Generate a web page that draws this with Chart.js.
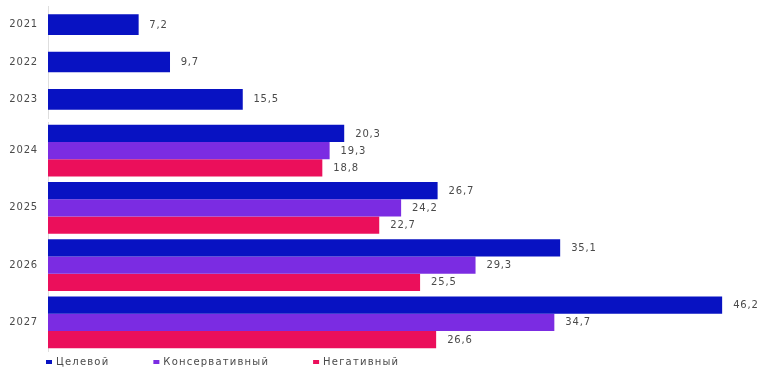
<!DOCTYPE html>
<html>
<head>
<meta charset="utf-8">
<script src="https://cdn.jsdelivr.net/npm/chart.js@4.4.1/dist/chart.umd.min.js"></script>
<style>
	html, body { margin: 0; padding: 0; background: #fff; }
	.wrap { width: 772px; position: relative; }
	#wrap-fact { height: 124px; }
	#wrap-forecast { height: 260px; margin-top: -8px; }
</style>
</head>
<body>
<div class="wrap" id="wrap-fact"><canvas id="chart-fact"></canvas></div>
<div class="wrap" id="wrap-forecast"><canvas id="chart-forecast"></canvas></div>
<script>
const YEARS_FACT = ["2021", "2022", "2023"];
const YEARS_FORECAST = ["2024", "2025", "2026", "2027"];
const FACT = [7.2, 9.7, 15.5];
const TARGET = [20.3, 26.7, 35.1, 46.2];
const CONSERVATIVE = [19.3, 24.2, 29.3, 34.7];
const NEGATIVE = [18.8, 22.7, 25.5, 26.6];
const SERIES_NAMES = ["Целевой", "Консервативный", "Негативный"];

const COLORS = {
	blue: "#0812c2",
	purple: "#7b2ce2",
	red: "#eb0f5b",
	text: "#4a4a4a",
	axis: "#dedede",
};
const FONT = "'DejaVu Sans', sans-serif";

// a bit of tracking so the text is as wide as in the original layout
const letterSpacing = {
	id: "letterSpacing",
	beforeDraw(chart) { chart.ctx.letterSpacing = "0.8px"; },
	afterDraw(chart) { chart.ctx.letterSpacing = "0px"; },
};

// value labels to the right of each bar, with a decimal comma
const valueLabels = {
	id: "valueLabels",
	afterDatasetsDraw(chart) {
		const { ctx } = chart;
		ctx.save();
		ctx.font = "10px " + FONT;
		ctx.fillStyle = COLORS.text;
		ctx.textAlign = "left";
		ctx.textBaseline = "middle";
		chart.data.datasets.forEach((ds, i) => {
			chart.getDatasetMeta(i).data.forEach((bar, j) => {
				ctx.fillText(ds.data[j].toFixed(1).replace(".", ","), bar.x + 11, bar.y + 0.5);
			});
		});
		ctx.restore();
	},
};

// legend under the plot
const bottomLegend = {
	id: "bottomLegend",
	afterDraw(chart) {
		const { ctx, chartArea } = chart;
		let x = chartArea.left - 2;
		const y = chart.height - 14;
		ctx.save();
		ctx.letterSpacing = "1.2px";
		ctx.font = "10px " + FONT;
		ctx.textAlign = "left";
		ctx.textBaseline = "middle";
		chart.data.datasets.forEach((ds) => {
			ctx.fillStyle = ds.backgroundColor;
			ctx.fillRect(x, y - 2, 6, 4);
			ctx.fillStyle = COLORS.text;
			ctx.fillText(ds.label, x + 10, y);
			x += 10 + ctx.measureText(ds.label).width + 44;
		});
		ctx.restore();
	},
};

const barOptions = (xMax, padding) => ({
	indexAxis: "y",
	responsive: true,
	maintainAspectRatio: false,
	animation: false,
	borderWidth: 0,
	layout: { padding },
	plugins: {
		legend: { display: false },
		tooltip: { enabled: false },
	},
	scales: {
		x: { type: "linear", min: 0, max: xMax, display: false },
		y: {
			type: "category",
			// invisible tick marks keep the labels off the axis line
			grid: { display: true, drawOnChartArea: false, drawTicks: true, tickLength: 10, color: "transparent" },
			border: { display: true, color: COLORS.axis, width: 1 },
			ticks: { padding: 0, color: COLORS.text, font: { family: FONT, size: 10 } },
			afterFit: (scale) => { scale.width = 42; },
		},
	},
});

// 2021-2023: actual values (the source draws them on their own scale)
new Chart(document.getElementById("chart-fact"), {
	type: "bar",
	data: {
		labels: YEARS_FACT,
		datasets: [
			{ label: SERIES_NAMES[0], data: FACT, backgroundColor: COLORS.blue, barThickness: 20 },
		],
	},
	plugins: [letterSpacing, valueLabels],
	options: barOptions(57, { left: 6, right: 9, top: 4, bottom: 0 }),
});

// 2024-2027: three scenarios
const forecastOptions = barOptions(49, { left: 6, right: 9, top: 0, bottom: 25 });
forecastOptions.categoryPercentage = 0.9;
forecastOptions.barPercentage = 1;

new Chart(document.getElementById("chart-forecast"), {
	type: "bar",
	data: {
		labels: YEARS_FORECAST,
		datasets: [
			{ label: SERIES_NAMES[0], data: TARGET, backgroundColor: COLORS.blue },
			{ label: SERIES_NAMES[1], data: CONSERVATIVE, backgroundColor: COLORS.purple },
			{ label: SERIES_NAMES[2], data: NEGATIVE, backgroundColor: COLORS.red },
		],
	},
	plugins: [letterSpacing, valueLabels, bottomLegend],
	options: forecastOptions,
});
</script>
</body>
</html>
